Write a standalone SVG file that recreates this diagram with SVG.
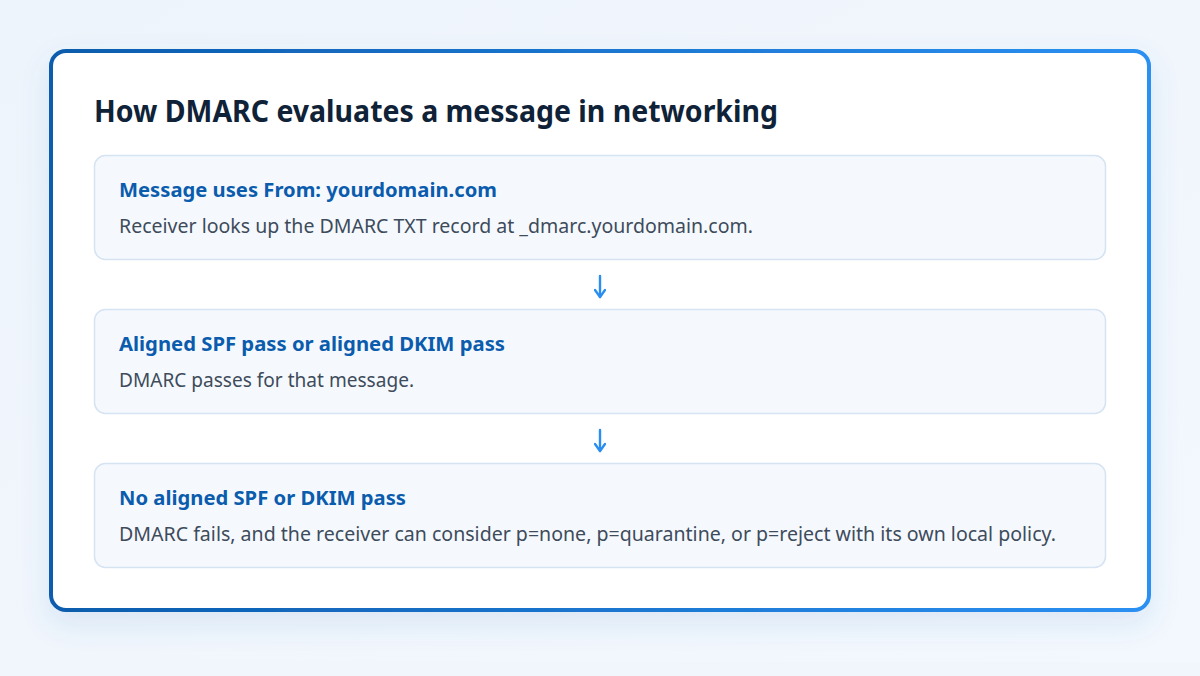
<svg xmlns="http://www.w3.org/2000/svg" width="1200" height="676" viewBox="0 0 1200 676">
<defs>
<linearGradient id="bg" x1="0" y1="0" x2="1" y2="1">
<stop offset="0" stop-color="#eef4fb"/>
<stop offset="1" stop-color="#f3f8fe"/>
</linearGradient>
<linearGradient id="border" x1="0" y1="0" x2="1" y2="0">
<stop offset="0" stop-color="#0b5cad"/>
<stop offset="1" stop-color="#2b90f2"/>
</linearGradient>
<filter id="shadow" x="-10%" y="-10%" width="120%" height="130%">
<feDropShadow dx="0" dy="12" stdDeviation="14" flood-color="#2a6fc0" flood-opacity="0.12"/>
</filter>
<marker id="ah" viewBox="0 0 12 12" refX="10" refY="6" markerWidth="12" markerHeight="12" markerUnits="userSpaceOnUse" orient="auto">
<path d="M3,1 L10,6 L3,11" fill="none" stroke="#2a8ef0" stroke-width="2.4" stroke-linecap="round" stroke-linejoin="round"/>
</marker>
</defs>
<style>
.box{fill:#f5f9fe;stroke:#d5e3f2;stroke-width:1.5}
.title{font-family:"Noto Sans","Open Sans",sans-serif;font-weight:700;font-size:31px;fill:#0f2237}
.head{font-family:"Noto Sans","Open Sans",sans-serif;font-weight:700;font-size:20.3px;fill:#0b5cad}
.body{font-family:"Noto Sans","Open Sans",sans-serif;font-size:19px;fill:#3e4b5b}
.conn{stroke:#2a8ef0;stroke-width:2.4;fill:none;stroke-linecap:round}
</style>
<rect width="1200" height="676" fill="url(#bg)"/>
<rect x="0" y="662" width="1200" height="14" fill="#f1f6fc"/>
<g id="card">
<rect x="51" y="51" width="1098" height="559" rx="15" fill="#ffffff" stroke="url(#border)" stroke-width="4" filter="url(#shadow)"/>
<text class="title" x="94" y="122" textLength="684" lengthAdjust="spacingAndGlyphs">How DMARC evaluates a message in networking</text>
</g>
<g id="node1">
<rect class="box" x="94.5" y="155.5" width="1011" height="104" rx="11"/>
<text class="head" x="119" y="197" textLength="378" lengthAdjust="spacingAndGlyphs">Message uses From: yourdomain.com</text>
<text class="body" x="119" y="233" textLength="634" lengthAdjust="spacingAndGlyphs">Receiver looks up the DMARC TXT record at _dmarc.yourdomain.com.</text>
</g>
<g id="node2">
<rect class="box" x="94.5" y="309.5" width="1011" height="104" rx="11"/>
<text class="head" x="119" y="351" textLength="386" lengthAdjust="spacingAndGlyphs">Aligned SPF pass or aligned DKIM pass</text>
<text class="body" x="119" y="387" textLength="295" lengthAdjust="spacingAndGlyphs">DMARC passes for that message.</text>
</g>
<g id="node3">
<rect class="box" x="94.5" y="463.5" width="1011" height="104" rx="11"/>
<text class="head" x="119" y="505" textLength="287" lengthAdjust="spacingAndGlyphs">No aligned SPF or DKIM pass</text>
<text class="body" x="119" y="541" textLength="937" lengthAdjust="spacingAndGlyphs">DMARC fails, and the receiver can consider p=none, p=quarantine, or p=reject with its own local policy.</text>
</g>
<g id="connectors">
<line class="conn" x1="600" y1="276" x2="600" y2="297" marker-end="url(#ah)"/>
<line class="conn" x1="600" y1="430" x2="600" y2="451" marker-end="url(#ah)"/>
</g>
</svg>
